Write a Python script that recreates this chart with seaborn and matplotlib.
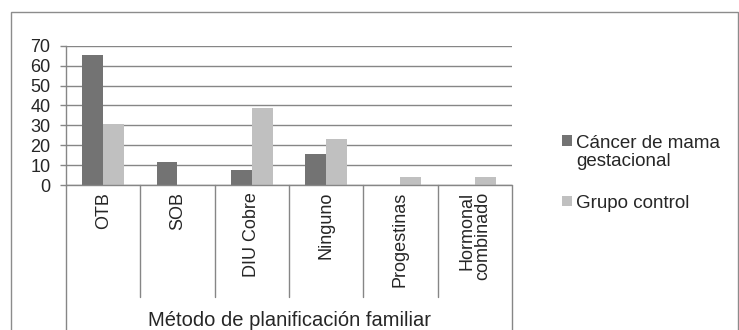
import numpy as np
import pandas as pd
import matplotlib
matplotlib.use("Agg")
import matplotlib.pyplot as plt
import matplotlib.transforms as mtransforms
from matplotlib.patches import Rectangle
import seaborn as sns

categories = ["OTB", "SOB", "DIU Cobre", "Ninguno", "Progestinas", "Hormonal\ncombinado"]
cancer_vals = [65.4, 11.5, 7.7, 15.4, 0.0, 0.0]
control_vals = [30.8, 0.0, 38.5, 23.1, 3.8, 3.8]
series_names = ["Cáncer de mama\ngestacional", "Grupo control"]
y_ticks = [0, 10, 20, 30, 40, 50, 60, 70]
x_title = "Método de planificación familiar"

sns.set_style("white")
plt.rcParams["font.family"] = ["Liberation Sans", "DejaVu Sans"]

df = pd.DataFrame({
    "cat": categories * 2,
    "val": cancer_vals + control_vals,
    "serie": [series_names[0]] * len(categories) + [series_names[1]] * len(categories),
})

W, H = 739, 330
fig = plt.figure(figsize=(W / 100, H / 100), dpi=100)
ax_top, ax_bot, ax_l, ax_r = 45.7, 185.0, 66.0, 512.0
ax = fig.add_axes([ax_l / W, (H - ax_bot) / H, (ax_r - ax_l) / W, (ax_bot - ax_top) / H])

grid_c = "#868686"
sns.barplot(data=df, x="cat", y="val", hue="serie", order=categories,
            hue_order=series_names, palette=["#737373", "#c0c0c0"],
            width=0.56, gap=0, saturation=1, edgecolor="none", linewidth=0,
            ax=ax, legend=True, zorder=3)

ax.set_ylim(0, 70)
ax.set_xlim(-0.5, len(categories) - 0.5)
ax.set_yticks(y_ticks)
ax.set_yticklabels([str(v) for v in y_ticks], fontsize=13)
ax.yaxis.grid(True, color=grid_c, lw=1, zorder=0)
ax.set_axisbelow(True)
for s in ["top", "right", "bottom"]:
    ax.spines[s].set_visible(False)
ax.spines["left"].set_color(grid_c)
ax.spines["left"].set_linewidth(1)
ax.tick_params(axis="y", length=4.3, width=1, color=grid_c, pad=7, direction="out", left=True)
ax.tick_params(axis="x", length=0, pad=5)
ax.set_xlabel("")
ax.set_ylabel("")
ax.set_xticks(range(len(categories)))
ax.set_xticklabels(categories, rotation=90, fontsize=13, va="top", ha="center",
                   multialignment="right", linespacing=0.9)

# axis line (zero) and category separators below the axis
tr = mtransforms.blended_transform_factory(ax.transData, ax.transAxes)
ax.axhline(0, color=grid_c, lw=1, zorder=4, clip_on=False)
h_ax = ax_bot - ax_top
inner_end = -(297 - ax_bot) / h_ax
outer_end = -(360 - ax_bot) / h_ax
for i, b in enumerate(np.arange(-0.5, len(categories))):
    end = outer_end if i in (0, len(categories)) else inner_end
    ax.plot([b, b], [0, end], transform=tr, color=grid_c, lw=1, clip_on=False, zorder=4)

ax.text(0.5, -(320 - ax_bot) / h_ax, x_title, transform=ax.transAxes,
        ha="center", va="center", fontsize=14.5)

# outer chart frame
fig.add_artist(Rectangle((11 / W, -0.1), (738 - 11) / W, (H - 12) / H + 0.1,
                         transform=fig.transFigure, fill=False, ec="#8c8c8c", lw=1))

handles, labels = ax.get_legend_handles_labels()
ax.get_legend().remove()
leg = fig.legend(handles, labels, loc="upper left",
                 bbox_to_anchor=(545 / W, (H - 118) / H), frameon=False, fontsize=13.5,
                 handlelength=0.55, handleheight=0.5, handletextpad=0.2,
                 labelspacing=1.3)
for t in leg.get_texts():
    t.set_linespacing(1.1)
hs = leg.legend_handles
hs[0].set_y(hs[0].get_y() + 8.5)

fig.savefig("out.png", dpi=100)
